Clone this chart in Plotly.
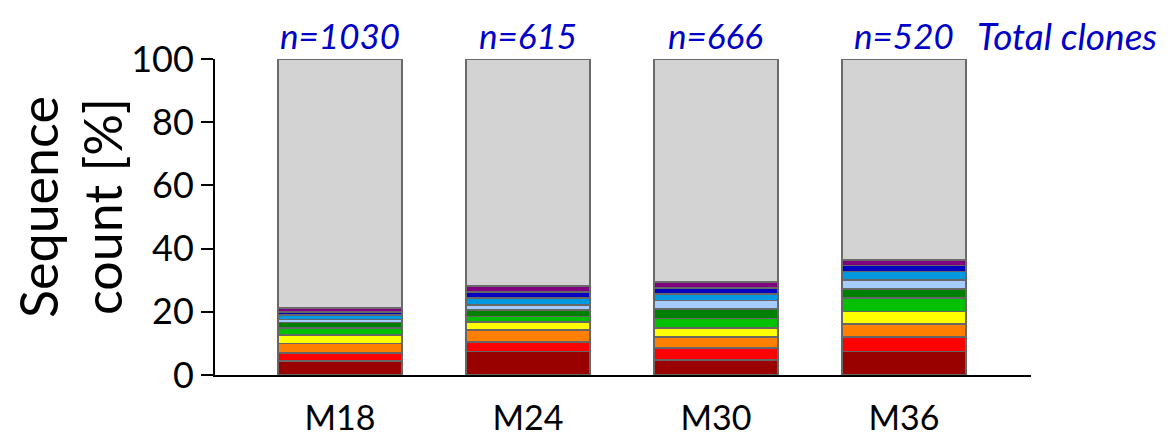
import plotly.graph_objects as go

categories = ["M18", "M24", "M30", "M36"]
totals = ["n=1030", "n=615", "n=666", "n=520"]

# clone shares (%) bottom to top
clone1 = [4.4, 7.4, 4.7, 7.5]
clone2 = [2.6, 3.1, 3.8, 4.6]
clone3 = [3.0, 3.7, 3.6, 4.1]
clone4 = [2.7, 2.5, 2.8, 3.9]
clone5 = [2.1, 1.8, 3.0, 4.3]
clone6 = [1.8, 2.0, 3.0, 2.8]
clone7 = [1.0, 1.7, 2.7, 2.8]
clone8 = [1.4, 2.2, 2.1, 2.8]
clone9 = [1.0, 1.8, 1.8, 1.8]
clone10 = [1.1, 2.1, 1.9, 1.8]

series = [clone1, clone2, clone3, clone4, clone5, clone6, clone7, clone8, clone9, clone10]
colors = ["#990000", "#ff0000", "#ff8000", "#ffff00", "#00c000", "#008000",
          "#a6cbff", "#0099e0", "#0000c0", "#800080"]

others = [round(100 - sum(s[i] for s in series), 2) for i in range(len(categories))]

FONT = "Lato"
OFF = 8  # page body margin
W, H = 1168 - OFF, 441 - OFF
L, R, T, B = 215 - OFF, 1031 - OFF, 59 - OFF, 375 - OFF
PW, PH = R - L, B - T


def px(x):
    return (x - OFF - L) / PW


def py(y):
    return (B - (y - OFF)) / PH


fig = go.Figure()
xs = list(range(len(categories)))
for vals, col in zip(series, colors):
    fig.add_trace(go.Bar(x=xs, y=vals, marker=dict(color=col, line=dict(color="#666666", width=1.5)),
                         width=0.66, showlegend=False, hoverinfo="y"))
fig.add_trace(go.Bar(x=xs, y=others, marker=dict(color="#d3d3d3", line=dict(color="#6a6a6a", width=2)),
                     width=0.66, showlegend=False, hoverinfo="y"))

for i, t in enumerate(totals):
    fig.add_annotation(x=i, xref="x", y=py(35), yref="paper", yanchor="middle",
                       text=f"<i>{t}</i>", showarrow=False,
                       font=dict(family=FONT, size=35, color="#0000c8"))
fig.add_annotation(x=px(975), xref="paper", y=py(35), yref="paper", xanchor="left",
                   yanchor="middle", text="<i>Total clones</i>", showarrow=False,
                   font=dict(family=FONT, size=37, color="#0000c8"))

fig.add_annotation(x=px(38), xref="paper", y=py(207), yref="paper",
                   yanchor="middle", xanchor="center", textangle=-90, text="Sequence",
                   showarrow=False, font=dict(family=FONT, size=52, color="black"))
fig.add_annotation(x=px(102), xref="paper", y=py(207), yref="paper",
                   yanchor="middle", xanchor="center", textangle=-90, text="count [%]",
                   showarrow=False, font=dict(family=FONT, size=52, color="black"))

fig.update_layout(
    barmode="stack",
    width=W, height=H,
    margin=dict(l=L, r=W - R, t=T, b=H - B, autoexpand=False),
    plot_bgcolor="white", paper_bgcolor="white",
    font=dict(family=FONT, color="black"),
    xaxis=dict(range=[-0.665, 3.676], tickvals=xs, ticktext=categories, showline=True,
               linecolor="black", linewidth=2, ticks="", showgrid=False, zeroline=False,
               tickfont=dict(size=34), ticklabelstandoff=12, automargin=False),
    yaxis=dict(range=[0, 100], tickvals=[0, 20, 40, 60, 80, 100], showline=True,
               linecolor="black", linewidth=2, ticks="outside", ticklen=12, tickwidth=2,
               tickcolor="black", showgrid=False, zeroline=False, tickfont=dict(size=36),
               automargin=False),
)
fig.write_html("out.html")
